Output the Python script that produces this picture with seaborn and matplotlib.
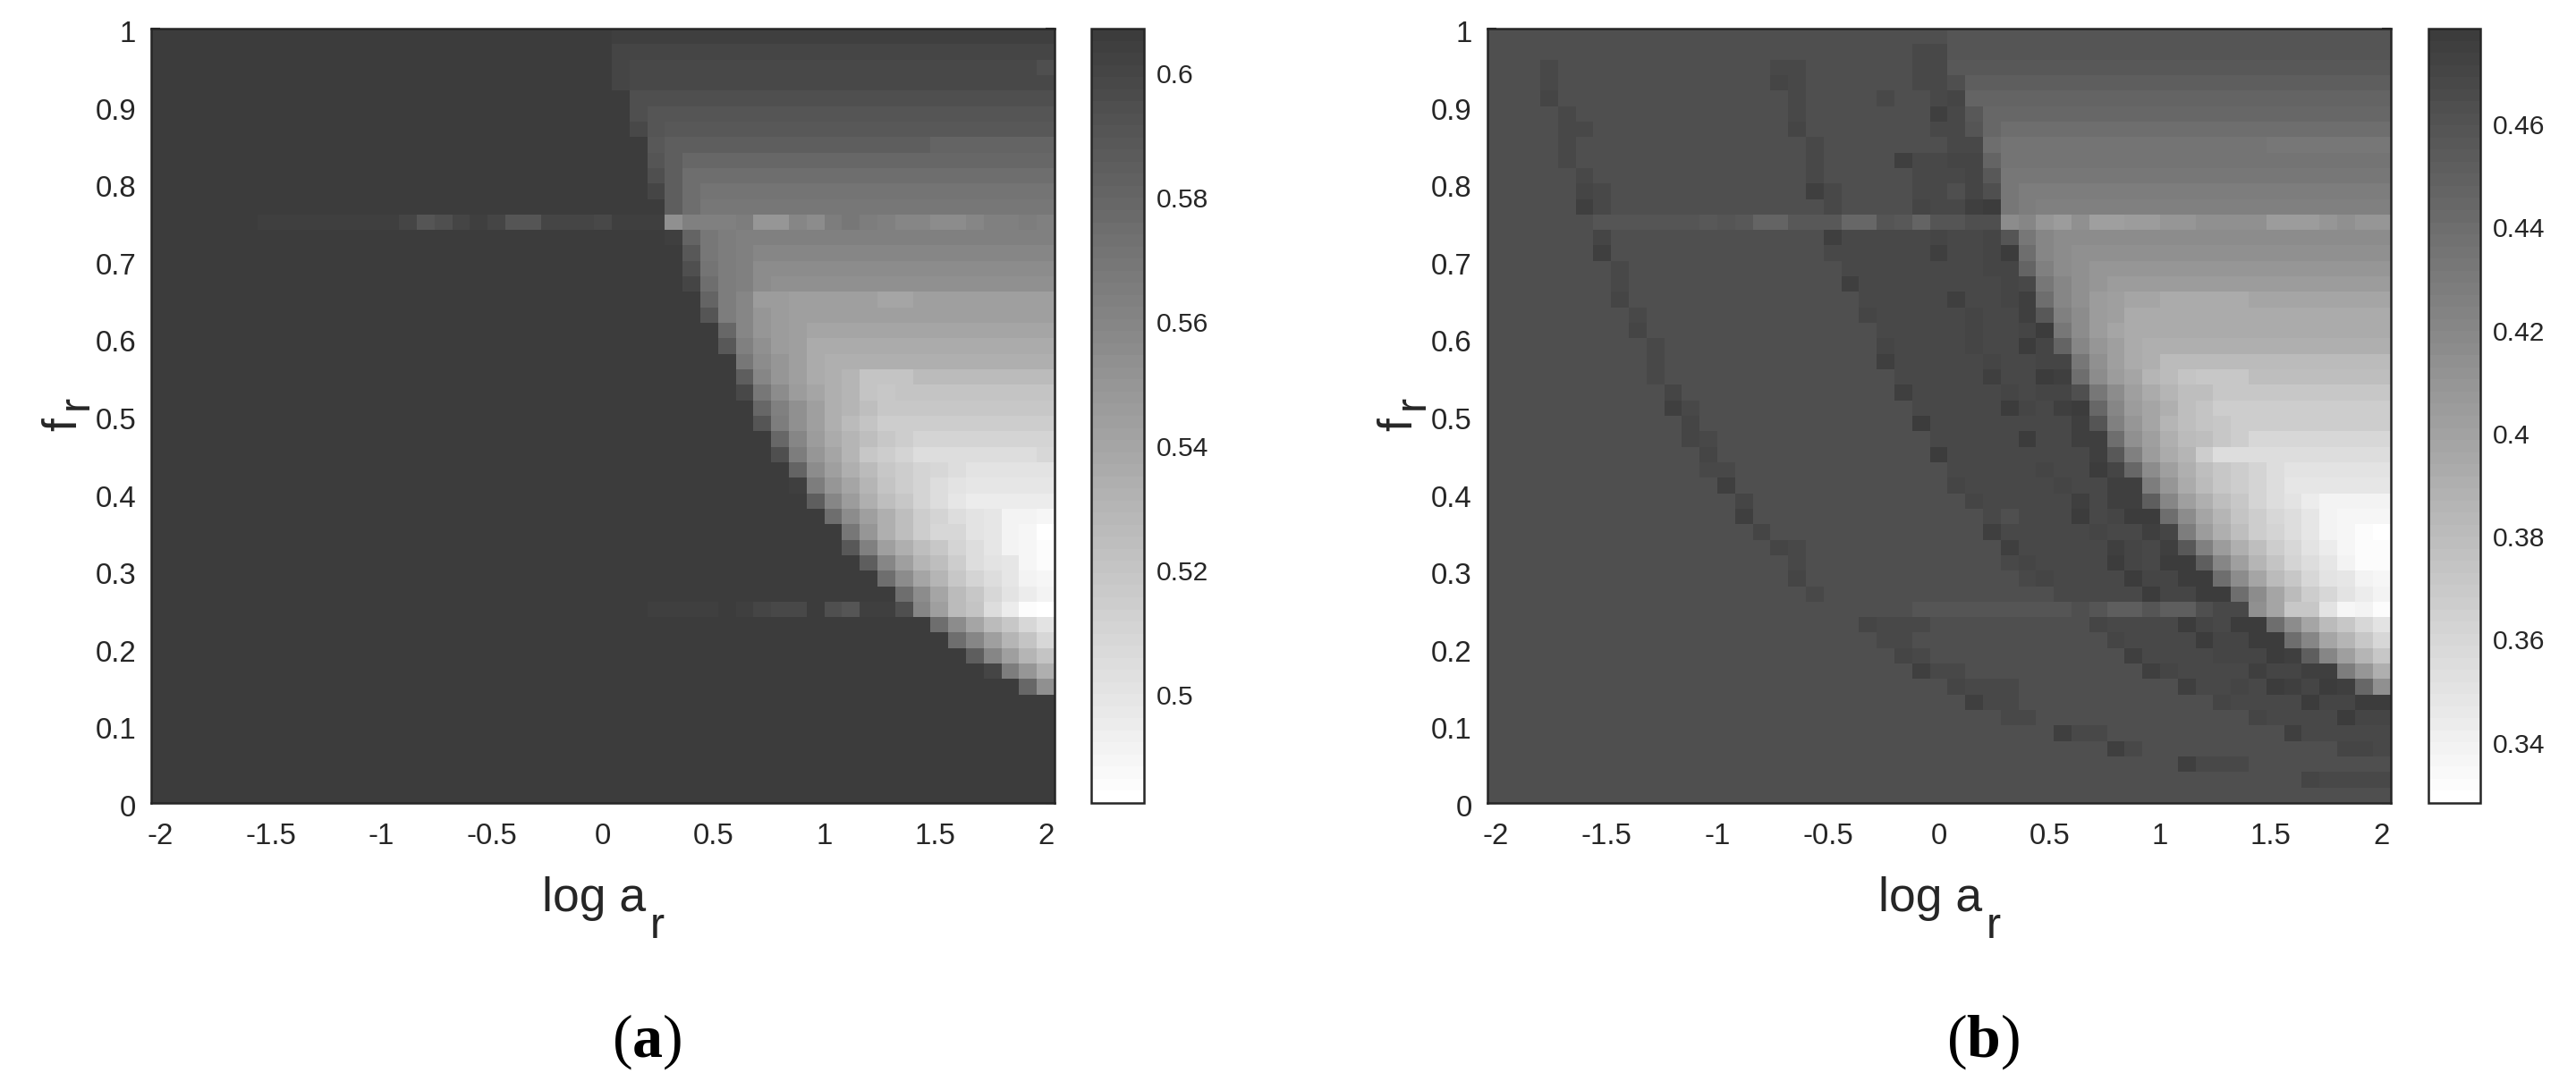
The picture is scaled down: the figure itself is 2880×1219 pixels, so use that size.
import numpy as np
import pandas as pd
import matplotlib
matplotlib.use("Agg")
import matplotlib.pyplot as plt
from matplotlib.colors import ListedColormap
from matplotlib.transforms import ScaledTranslation
import seaborn as sns

# Shade codes, one row per f_r from 0.99 (top) to 0.01.
# Each code is a gray level: '0'=60, '1'=65, ... in steps of 5, up to 'D'=255 (white).
CODES = "0123456789abcdefghijklmnopqrstuvwxyzABCD"
Z = "0000000000 0000000000 "
ROWS_A = [
 Z+"0000001111 1111111111 1111111111 1",
 Z+"0000002222 2222222222 2222222222 2",
 Z+"0000002333 3333333333 3333333333 4",
 Z+"0000002333 3333333333 3333333333 3",
 Z+"0000000444 4444444444 4444444444 4",
 Z+"0000000455 5555555555 5555555555 5",
 Z+"0000000356 6666666666 6666666666 6",
 Z+"0000000067 7777777777 7777888888 8",
 Z+"0000000057 9999999999 9999999999 9",
 Z+"0000000047 aaaaaaaaaa aaaaaaaaaa a",
 Z+"0000000027 abbbbbbbbb bbbbbbbbbb b",
 Z+"0000000007 accccccccc cccccccccc c",
 "0000001111 1111254212 552223111h eeediifgdc deffggfeed e",
 Z+"0000000001 8cdeeeeeee eeeeeeeeee e",
 Z+"0000000000 6cdeffffff ffffffffff f",
 Z+"0000000000 4bdegggggg gggggggggg g",
 Z+"0000000000 2adeghhhhh hhhhhhhhhh h",
 Z+"0000000000 08dfjjkkkk kllkkkkkkk k",
 Z+"0000000000 05dfijkkkk kkkkkkkkkk k",
 Z+"0000000000 009fijklll llllllllll l",
 Z+"0000000000 006ehjkmmm mmmmmmmmmm m",
 Z+"0000000000 000cgikmnn nnnnnnnnnn n",
 Z+"0000000000 0007fikmno rrrppppppp p",
 Z+"0000000000 0003cgjlno rsrrrrrrrr r",
 Z+"0000000000 00009ehkno qsssssssss s",
 Z+"0000000000 00005dhknp rttttttttt t",
 Z+"0000000000 000009fjmo qstuuuuuuu u",
 Z+"0000000000 000004dilo stuwwwwwww v",
 Z+"0000000000 0000008gkn pstuvwxxxx x",
 Z+"0000000000 0000001dil ortuwxyyyy y",
 Z+"0000000000 00000007fj nqsuwyzzzz z",
 Z+"0000000000 00000000ag knqtuwxyAA B",
 Z+"0000000000 000000000c inqtvvxyAB D",
 Z+"0000000000 0000000006 eknqsuwyAB C",
 Z+"0000000000 0000000000 7fkoqtwxyB C",
 Z+"0000000000 0000000000 0aglosuwyA B",
 Z+"0000000000 0000000000 00aglpsvxz A",
 Z+"0000000011 1101233045 114fkprwzC D",
 Z+"0000000000 0000000000 0000aglpsv x",
 Z+"0000000000 0000000000 00000afkor v",
 Z+"0000000000 0000000000 0000007fko r",
 Z+"0000000000 0000000000 00000002di n",
 Z+"0000000000 0000000000 0000000009 h",
 Z+"0000000000 0000000000 0000000000 0",
 Z+"0000000000 0000000000 0000000000 0",
 Z+"0000000000 0000000000 0000000000 0",
 Z+"0000000000 0000000000 0000000000 0",
 Z+"0000000000 0000000000 0000000000 0",
 Z+"0000000000 0000000000 0000000000 0",
 Z+"0000000000 0000000000 0000000000 0",
]
ROWS_B = [
 "4444444444 4444444444 4444445555 5555555555 5555555555 5",
 "4444444444 4444444444 4444335555 5555555555 5555555555 5",
 "4443444444 4444443344 4444336666 6666666666 6666666666 6",
 "4443444444 4444442344 4444334777 7777777777 7777777777 7",
 "4442444444 4444444344 4434432888 8888888888 8888888888 8",
 "4444344444 4444444344 4444413699 9999999999 9999999999 9",
 "4444334444 4444444244 444443359a aaaaaaaaaa aaaaaaaaaa a",
 "4444344444 4444444434 44444433ab bbbbbbbbbb bbbbcccccc c",
 "4444344444 4444444434 444133228b bbbbbbbbbb bbbbbbbbbb b",
 "4444434444 4444444434 444433326c cccccccccc cccccccccc c",
 "4444423444 4444444413 444433424c dddddddddd dddddddddd d",
 "4444413444 4444444443 444423310c deeeeeeeee eeeeeeeeee e",
 "4444445555 5565688666 995685544g fijhkkjjii hhhhjjjihi i",
 "4444442444 4444444441 3333323325 cfgggggggg gggggggggg g",
 "4444441444 4444444443 3333313320 afghhhhhhh hhhhhhhhhh h",
 "4444444344 4444444444 3333333322 8eghiiiiii iiiiiiiiii i",
 "4444444344 4444444444 1333333332 3cfhijjjjj jjjjjjjjjj j",
 "4444444244 4444444444 4333331332 1afhjkllmm mmmlllllll l",
 "4444444434 4444444444 4233333233 16egjkmmmm mmmmmmmmmm m",
 "4444444424 4444444444 4433333233 20cgjlmmmm mmmmmmmmmm m",
 "4444444443 4444444444 4423333233 028fikmnnn nnnnnnnnnn n",
 "4444444443 4444444444 4413333323 322chkmnpp pppppppppp p",
 "4444444443 4444444444 4443333313 301agjlopr sssqqqqqqq q",
 "4444444444 2444444444 4441333332 3224cgkmoq qsssssssss s",
 "4444444444 1344444444 4444333330 23109fjlnq rttttttttt t",
 "4444444444 4244444444 4444033333 33315eiloq rstttttttt t",
 "4444444444 4234444444 4444433333 03311ahknp qstvvvvvvv v",
 "4444444444 4424444444 4444403333 333316ejmo twwwwwwwww w",
 "4444444444 4433444444 4444443333 3233029gkn qstuwxxxxx x",
 "4444444444 4441444444 4444442333 3323311dim pstuwyyyyy y",
 "4444444444 4444244444 4444444233 33313117fk nqsuwxzAAA A",
 "4444444444 4444144444 4444444434 33303200ag lortvwyABB B",
 "4444444444 4444424444 4444444413 333323312d jnqtuwyABC D",
 "4444444444 4444442344 4444444441 3333312316 ejnqtvxzBC C",
 "4444444444 4444444344 4444444443 2333302300 7fkoruwyAC C",
 "4444444444 4444444244 4444444444 3233330220 0aglpsvxyA B",
 "4444444444 4444444434 4444444444 4433333022 00aglptvxz A",
 "4444444444 4444444444 4444555555 5554577577 433hlssxBA C",
 "4444444444 4444444444 4233344444 4444233330 2300aglpsv x",
 "4444444444 4444444444 4433444444 4444423333 02200aflos v",
 "4444444444 4444444444 4442344444 4444441333 3222017fko s",
 "4444444444 4444444444 4444133444 4444444123 33312211di n",
 "4444444444 4444444444 4444442333 4444444441 3323012019 h",
 "4444444444 4444444444 4444444133 4444444444 4233330220 0",
 "4444444444 4444444444 4444444443 3444444444 4442333302 2",
 "4444444444 4444444444 4444444444 4413344444 4444413333 3",
 "4444444444 4444444444 4444444444 4444413444 4444444422 3",
 "4444444444 4444444444 4444444444 4444444441 3334444444 4",
 "4444444444 4444444444 4444444444 4444444444 4444442333 3",
 "4444444444 4444444444 4444444444 4444444444 4444444444 4",
]

LOG_A = np.round(np.linspace(-2, 2, 51), 2)
F_R = np.round(np.arange(0.99, 0, -0.02), 2)
RANGE_A = (0.4826, 0.6072)
RANGE_B = (0.3283, 0.4786)
X_TICKS = [-2, -1.5, -1, -0.5, 0, 0.5, 1, 1.5, 2]
X_LABELS = ['-2', '-1.5', '-1', '-0.5', '0', '0.5', '1', '1.5', '2']
Y_TICKS = [0, .1, .2, .3, .4, .5, .6, .7, .8, .9, 1]
Y_LABELS = ['0', '0.1', '0.2', '0.3', '0.4', '0.5', '0.6', '0.7', '0.8', '0.9', '1']
CB_TICKS_A = [0.5, 0.52, 0.54, 0.56, 0.58, 0.6]
CB_LABELS_A = ['0.5', '0.52', '0.54', '0.56', '0.58', '0.6']
CB_TICKS_B = [0.34, 0.36, 0.38, 0.4, 0.42, 0.44, 0.46]
CB_LABELS_B = ['0.34', '0.36', '0.38', '0.4', '0.42', '0.44', '0.46']

sns.set_style("white")
plt.rcParams['font.family'] = ['Liberation Sans', 'DejaVu Sans']
plt.rcParams['mathtext.fontset'] = 'custom'
plt.rcParams['mathtext.bf'] = 'Liberation Serif:bold'
plt.rcParams['mathtext.rm'] = 'Liberation Serif'

W, H = 2880, 1219
INK = '#262626'
cmap = ListedColormap([(g, g, g) for g in np.linspace(255, 60, 64) / 255])


def table(rows, rng):
    lo, hi = rng
    data = []
    for row in rows:
        codes = row.replace(' ', '')
        assert len(codes) == 51, row
        gray = np.array([60 + 5 * CODES.index(c) for c in codes])
        data.append(hi - (gray - 60) / 195 * (hi - lo))
    return pd.DataFrame(data, index=F_R, columns=LOG_A)


def box(x0, x1, y0=32, y1=898):
    return [x0 / W, 1 - y1 / H, (x1 - x0) / W, (y1 - y0) / H]


fig = plt.figure(figsize=(W / 100, H / 100), dpi=100, facecolor='white')


def px(text, x, y, **kw):
    return fig.text(x / W, 1 - y / H, text, color=kw.pop('color', INK), **kw)


def panel(rows, rng, x0, cx0, cx1, cb_ticks, cb_labels, letter, letter_x):
    ax = fig.add_axes(box(x0, x0 + 1010))
    cax = fig.add_axes(box(cx0, cx1))
    sns.heatmap(table(rows, rng), ax=ax, cbar_ax=cax, cmap=cmap, vmin=rng[0], vmax=rng[1],
                xticklabels=False, yticklabels=False)
    ax.set_xticks([(v + 2) / 0.08 + 0.5 for v in X_TICKS], X_LABELS, rotation=0)
    ax.set_yticks([(1 - v) / 0.02 for v in Y_TICKS], Y_LABELS, rotation=0)
    ax.set_xlabel('')
    ax.set_ylabel('')
    ax.tick_params(axis='both', direction='in', length=7.2, width=1.5, color=INK,
                   top=True, right=True, bottom=True, left=True, labelcolor=INK)
    ax.tick_params(axis='x', labelsize=23.8, pad=16)
    ax.tick_params(axis='y', labelsize=23.8, pad=12)
    shift = ScaledTranslation(0, -3 / 100, fig.dpi_scale_trans)
    for lab in ax.get_yticklabels():
        lab.set_transform(lab.get_transform() + shift)
    for s in ax.spines.values():
        s.set_visible(True)
        s.set_linewidth(1.8)
        s.set_color(INK)
    cb = ax.collections[0].colorbar
    cb.set_ticks(cb_ticks, labels=cb_labels)
    cb.ax.tick_params(direction='in', length=7.2, width=1.5, color=INK, labelsize=21.6,
                      pad=10, labelcolor=INK, right=True, left=False)
    cb.outline.set_visible(True)
    cb.outline.set_linewidth(1.8)
    cb.outline.set_edgecolor(INK)

    dx = x0 - 169
    px('log a', 606 + dx, 1019, fontsize=38.5, va='baseline', ha='left')
    px('r', 727 + dx, 1049, fontsize=35, va='baseline', ha='left')
    px('f', 85 + dx, 482, fontsize=38.5, rotation=90, rotation_mode='anchor',
       va='baseline', ha='left')
    px('r', 98 + dx, 458, fontsize=35, rotation=90, rotation_mode='anchor',
       va='baseline', ha='left')
    px(rf'($\mathbf{{{letter}}}$)', letter_x, 1165, fontsize=49, ha='center', va='center',
       family='Liberation Serif', color='black')


panel(ROWS_A, RANGE_A, 169, 1220, 1279, CB_TICKS_A, CB_LABELS_A, 'a', 723)
panel(ROWS_B, RANGE_B, 1662.5, 2715, 2773, CB_TICKS_B, CB_LABELS_B, 'b', 2217)

fig.savefig('out.png', dpi=100, facecolor='white')
